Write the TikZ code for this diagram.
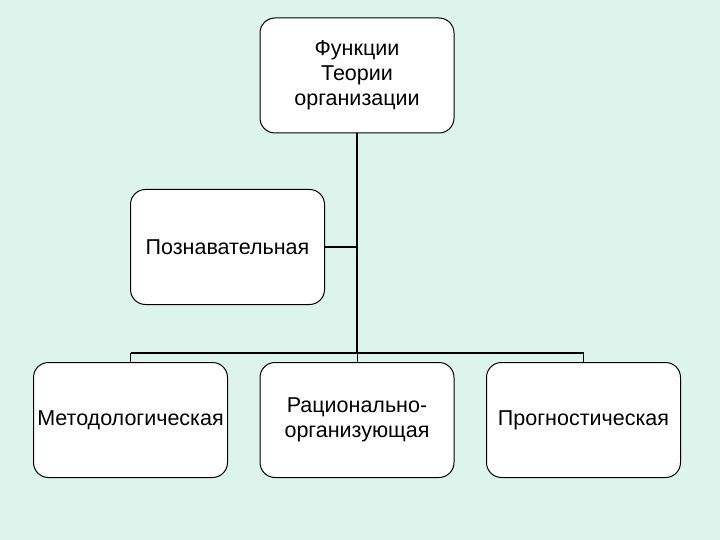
\documentclass[tikz,border=0pt]{standalone}
\usepackage{fontspec}
\setmainfont{Liberation Sans}
\begin{document}
\begin{tikzpicture}[x=1pt,y=-1pt,
  box/.style={draw=black,line width=1pt,fill=white,rounded corners=15pt,text width=194pt,minimum height=115pt,align=center,inner sep=0pt,font=\fontsize{21.5}{25}\selectfont},
  conn/.style={line width=2pt}]
\fill[fill={rgb,255:red,221;green,244;blue,236}] (0,0) rectangle (720,540);
\useasboundingbox (0,0) rectangle (720,540);
\node[box] (top) at (357,75.5) {Функции\\Теории организации};
\node[box] (cog) at (227.5,247) {Познавательная};
\node[box] (m1) at (130.5,420) {Методологическая};
\node[box] (m2) at (357,420) {Рационально-\\организующая};
\node[box] (m3) at (583.5,420) {Прогностическая};
\coordinate (bus) at (357,353);
\coordinate (bl) at (130.5,353);
\coordinate (br) at (583.5,353);
\draw[conn] (top.south) -- (bus);
\draw[conn] (cog.east) -- (cog.east -| bus);
\draw[conn] (bl) -- (br);
\draw[line width=1pt] (bl) -- (m1.north);
\draw[line width=1pt] (bus) -- (m2.north);
\draw[line width=1pt] (br) -- (m3.north);
\end{tikzpicture}
\end{document}
